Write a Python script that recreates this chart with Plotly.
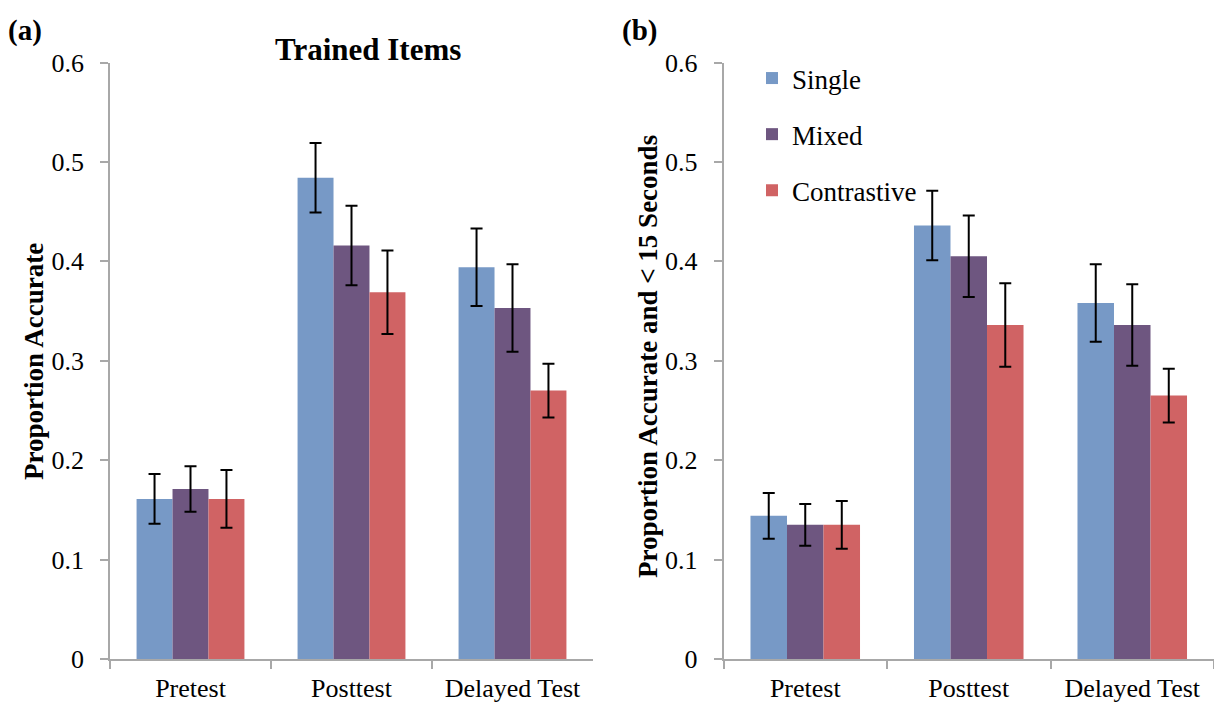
import plotly.graph_objects as go

# Test sessions and training conditions
categories = ["Pretest", "Posttest", "Delayed Test"]
conditions = ["Single", "Mixed", "Contrastive"]
colors = ["#7799C6", "#6E5680", "#D06364"]

# (a) Trained items: proportion accurate
trained_single = [0.161, 0.484, 0.394]
trained_mixed = [0.171, 0.416, 0.353]
trained_contrastive = [0.161, 0.369, 0.270]
trained_single_err = [0.025, 0.035, 0.039]
trained_mixed_err = [0.023, 0.040, 0.044]
trained_contrastive_err = [0.029, 0.042, 0.027]

# (b) Proportion accurate and < 15 seconds
fast_single = [0.144, 0.436, 0.358]
fast_mixed = [0.135, 0.405, 0.336]
fast_contrastive = [0.135, 0.336, 0.265]
fast_single_err = [0.023, 0.035, 0.039]
fast_mixed_err = [0.021, 0.041, 0.041]
fast_contrastive_err = [0.024, 0.042, 0.027]

y_ticks = [0, 0.1, 0.2, 0.3, 0.4, 0.5, 0.6]
y_tick_text = ["0", "0.1", "0.2", "0.3", "0.4", "0.5", "0.6"]

W, H = 1214, 711
FONT = "Liberation Serif"
AXIS_GREY = "#A8A8A8"

panel_a = [(trained_single, trained_single_err),
           (trained_mixed, trained_mixed_err),
           (trained_contrastive, trained_contrastive_err)]
panel_b = [(fast_single, fast_single_err),
           (fast_mixed, fast_mixed_err),
           (fast_contrastive, fast_contrastive_err)]

fig = go.Figure()

for xa, ya, data, show in [("x", "y", panel_a, False), ("x2", "y2", panel_b, True)]:
    for name, color, (vals, errs) in zip(conditions, colors, data):
        fig.add_trace(go.Bar(
            x=categories, y=vals, name=name,
            marker=dict(color=color, line=dict(width=0)),
            error_y=dict(type="data", array=errs, visible=True,
                         color="black", thickness=2, width=6),
            xaxis=xa, yaxis=ya,
            legendgroup=name, showlegend=show,
        ))

y_dom = [(H - 659) / H, (H - 62.5) / H]

common_x = dict(
    type="category", showline=True, linecolor=AXIS_GREY, linewidth=1.5,
    ticks="outside", tickson="boundaries", ticklen=8, tickcolor=AXIS_GREY,
    tickwidth=1.5, showgrid=False, zeroline=False, automargin=False,
    tickfont=dict(family=FONT, size=26, color="black"),
    ticklabelstandoff=5,
)
common_y = dict(
    range=[0, 0.6], tickvals=y_ticks, ticktext=y_tick_text,
    showline=True, linecolor=AXIS_GREY, linewidth=1.5,
    ticks="outside", ticklen=8, tickcolor=AXIS_GREY, tickwidth=1.5,
    showgrid=False, zeroline=False, domain=y_dom, automargin=False,
    tickfont=dict(family=FONT, size=26, color="black"),
    ticklabelstandoff=11,
)

fig.update_layout(
    template="none",
    width=W, height=H,
    margin=dict(l=0, r=0, t=0, b=0),
    paper_bgcolor="white", plot_bgcolor="white",
    barmode="group", bargap=0.33, bargroupgap=0,
    font=dict(family=FONT, color="black"),
    xaxis=dict(common_x, domain=[110 / W, 593 / W], anchor="y"),
    yaxis=dict(common_y, anchor="x"),
    xaxis2=dict(common_x, domain=[723.5 / W, 1.0], anchor="y2"),
    yaxis2=dict(common_y, anchor="x2"),
    legend=dict(
        x=752 / W, y=(H - 54) / H, xanchor="left", yanchor="top",
        font=dict(family=FONT, size=27, color="black"),
        tracegroupgap=18, itemwidth=30, bgcolor="rgba(0,0,0,0)",
    ),
    showlegend=True,
)

annotations = [
    dict(text="<b>(a)</b>", x=6 / W, y=(H - 30) / H, xanchor="left", yanchor="middle",
         font=dict(size=29)),
    dict(text="<b>(b)</b>", x=620 / W, y=(H - 30) / H, xanchor="left", yanchor="middle",
         font=dict(size=29)),
    dict(text="<b>Trained Items</b>", x=368 / W, y=(H - 50) / H, xanchor="center",
         yanchor="middle", font=dict(size=31)),
    dict(text="<b>Proportion Accurate</b>", x=34 / W, y=(H - 362) / H, textangle=-90,
         xanchor="center", yanchor="middle", font=dict(size=27)),
    dict(text="<b>Proportion Accurate and < 15 Seconds</b>", x=648 / W, y=(H - 357) / H,
         textangle=-90, xanchor="center", yanchor="middle", font=dict(size=27)),
]
for a in annotations:
    a.update(xref="paper", yref="paper", showarrow=False)
    a["font"].update(family=FONT, color="black")
fig.update_layout(annotations=annotations)

fig.write_html("out.html")
